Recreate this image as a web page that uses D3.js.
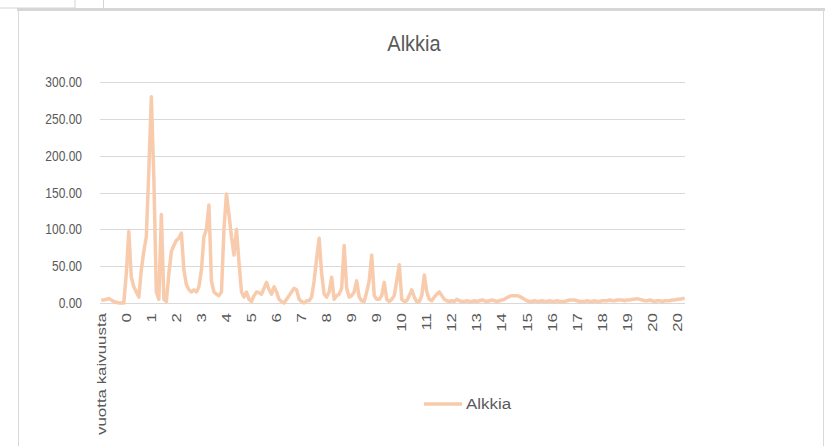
<!DOCTYPE html>
<html>
<head>
<meta charset="utf-8">
<script src="https://cdn.jsdelivr.net/npm/d3@7/dist/d3.min.js"></script>
<style>
  body { margin: 0; background: #fff; }
  text { font-family: "Liberation Sans", Arial, sans-serif; fill: #595959; }
</style>
</head>
<body>
<svg id="chart" width="825" height="446"></svg>
<script>
// x labels shown every 10th category (Excel skips the rest)
var tickLabels = ['vuotta kaivuusta', '0', '1', '2', '3', '4', '5', '6', '7', '8', '9', '9',
  '10', '11', '12', '13', '14', '15', '16', '17', '18', '19', '20', '20'];
var labelEvery = 10;

// Alkkia series, one value per category
var alkkia = [
  4, 4, 5, 6, 4, 2, 1, 0, 0, 0,
  40, 97, 35, 22, 15, 8, 45, 70, 90, 180,
  280, 170, 15, 5, 120, 5, 2, 40, 70, 78,
  85, 88, 95, 45, 25, 18, 15, 18, 15, 22,
  45, 90, 100, 133, 30, 15, 12, 10, 15, 100,
  148, 120, 90, 65, 100, 55, 15, 8, 15, 5,
  2, 10, 15, 14, 12, 20, 28, 18, 12, 22,
  15, 5, 2, 0, 5, 10, 15, 20, 18, 5,
  2, 0, 3, 3, 8, 30, 60, 88, 40, 12,
  8, 15, 35, 5, 10, 12, 20, 78, 20, 8,
  10, 15, 30, 8, 3, 2, 15, 30, 65, 10,
  5, 5, 10, 28, 5, 2, 5, 10, 30, 52,
  5, 2, 3, 10, 18, 8, 2, 2, 10, 38,
  15, 5, 3, 8, 12, 15, 10, 5, 3, 2,
  3, 2, 5, 3, 2, 2, 3, 2, 2, 3,
  2, 3, 4, 3, 2, 3, 4, 3, 2, 3,
  4, 5, 7, 9, 10, 10, 10, 9, 7, 5,
  3, 2, 2, 3, 2, 2, 3, 2, 2, 3,
  2, 2, 3, 2, 2, 2, 3, 4, 4, 4,
  3, 2, 2, 2, 3, 2, 2, 3, 2, 2,
  3, 3, 3, 4, 3, 3, 4, 4, 4, 3,
  4, 4, 5, 5, 6, 5, 4, 3, 3, 4,
  3, 2, 3, 3, 2, 3, 3, 3, 4, 4,
  5, 5, 6, 6
];
var yTicks = [0, 50, 100, 150, 200, 250, 300];
var seriesName = 'Alkkia';

var svg = d3.select('#chart');

// screenshot frame
svg.append('rect').attr('x', -1).attr('y', -1).attr('width', 76).attr('height', 9)
  .attr('fill', 'none').attr('stroke', '#d4d4d4');
svg.append('line').attr('x1', 103.5).attr('x2', 103.5).attr('y1', 0).attr('y2', 9)
  .attr('stroke', '#d4d4d4');
svg.append('line').attr('x1', 17).attr('x2', 825).attr('y1', 9.5).attr('y2', 9.5)
  .attr('stroke', '#d6d6d6').attr('stroke-width', 3);
svg.append('line').attr('x1', 18.5).attr('x2', 18.5).attr('y1', 10).attr('y2', 446)
  .attr('stroke', '#d9d9d9');
svg.append('line').attr('x1', 823.5).attr('x2', 823.5).attr('y1', 10).attr('y2', 446)
  .attr('stroke', '#d9d9d9');

var plot = { left: 100, right: 686, top: 82, bottom: 303 };

var x = d3.scaleBand().domain(d3.range(alkkia.length)).range([plot.left, plot.right]);
var y = d3.scaleLinear().domain([0, 300]).range([plot.bottom, plot.top]);

// gridlines
svg.append('g')
  .selectAll('line')
  .data(yTicks)
  .enter().append('line')
  .attr('x1', plot.left).attr('x2', plot.right - 1)
  .attr('y1', d => Math.round(y(d)) + 0.5).attr('y2', d => Math.round(y(d)) + 0.5)
  .attr('stroke', '#d9d9d9');

// y axis labels
var yAxis = d3.axisLeft(y).tickValues(yTicks).tickFormat(d3.format('.2f')).tickSize(0).tickPadding(18);
var gy = svg.append('g').attr('transform', 'translate(' + plot.left + ',0)').call(yAxis);
gy.select('.domain').remove();
gy.selectAll('text').style('font-size', '12px').style('fill', '#595959')
  .attr('transform', 'scale(1,1.25)').attr('dy', '0.3em');

// x axis labels
var xAxis = d3.axisBottom(x)
  .tickValues(d3.range(0, alkkia.length, labelEvery))
  .tickFormat(i => tickLabels[i / labelEvery])
  .tickSize(0);
var gx = svg.append('g').attr('transform', 'translate(0,' + plot.bottom + ')').call(xAxis);
gx.select('.domain').remove();
gx.selectAll('text')
  .style('font-size', '13px').style('fill', '#595959')
  .attr('text-anchor', 'end')
  .attr('x', 0).attr('y', 0).attr('dy', '0.35em')
  .attr('transform', 'translate(0,10) rotate(-90) scale(1.3,1)');
gx.attr('font-family', null);
gy.attr('font-family', null);

// the line
var line = d3.line()
  .x((d, i) => x(i) + x.bandwidth() / 2)
  .y(d => y(d));

svg.append('path')
  .datum(alkkia)
  .attr('d', line)
  .attr('fill', 'none')
  .attr('stroke', '#f8cbad')
  .attr('stroke-width', 3.5)
  .attr('stroke-linejoin', 'round');

// title
svg.append('text')
  .attr('transform', 'translate(414,51) scale(1,1.12)')
  .attr('text-anchor', 'middle')
  .style('font-size', '20px')
  .text(seriesName);

// legend
var legend = svg.append('g').attr('transform', 'translate(424,404)');
legend.append('line').attr('x1', 0).attr('x2', 38).attr('y1', 0).attr('y2', 0)
  .attr('stroke', '#f8cbad').attr('stroke-width', 3.5);
legend.append('text')
  .attr('transform', 'translate(42,5) scale(1.3,1.1)')
  .style('font-size', '13px')
  .text(seriesName);
</script>
</body>
</html>
